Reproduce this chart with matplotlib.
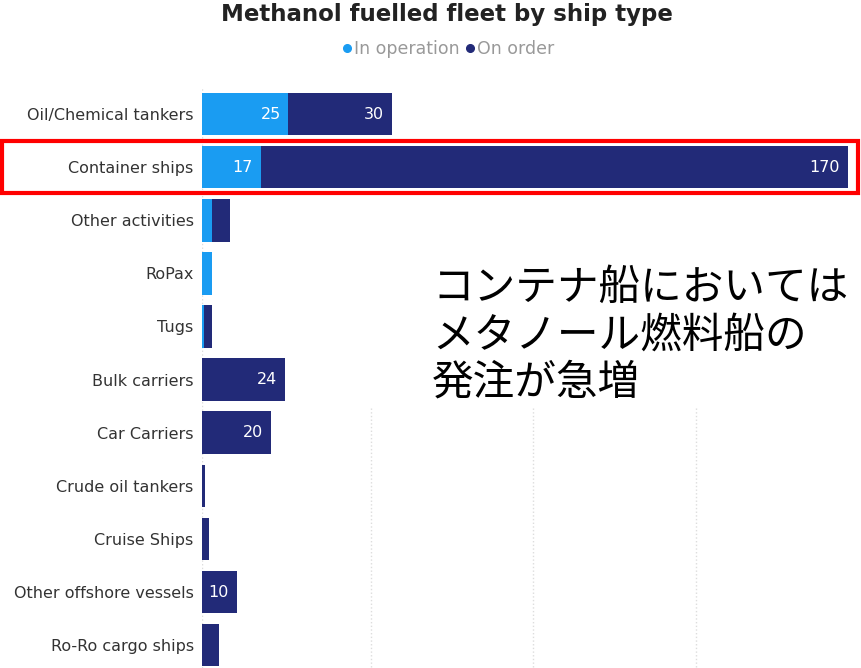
import matplotlib.pyplot as plt
from matplotlib.lines import Line2D
from matplotlib.patches import Rectangle

plt.rcParams['font.family'] = ['DejaVu Sans']

ship_types = ["Oil/Chemical tankers", "Container ships", "Other activities", "RoPax",
              "Tugs", "Bulk carriers", "Car Carriers", "Crude oil tankers",
              "Cruise Ships", "Other offshore vessels", "Ro-Ro cargo ships"]
in_operation = [25, 17, 3, 3, 0.5, 0, 0, 0, 0, 0, 0]
on_order = [30, 170, 5, 0, 2.5, 24, 20, 1, 2, 10, 5]

light = "#1a9cf2"
dark = "#222a78"

fig = plt.figure(figsize=(8.61, 6.68), dpi=100)
ax = fig.add_axes([202 / 861, 0, 656 / 861, 1 - 87.5 / 668])

y = list(range(len(ship_types)))
ax.barh(y, in_operation, height=0.8, color=light, zorder=2)
ax.barh(y, on_order, left=in_operation, height=0.8, color=dark, zorder=2)

# value labels inside the larger segments
for i in y:
    if in_operation[i] >= 10:
        ax.text(in_operation[i] - 2.2, i, f"{in_operation[i]:g}", color="white",
                ha="right", va="center", fontsize=11.5, zorder=3)
    if on_order[i] >= 10:
        ax.text(in_operation[i] + on_order[i] - 2.2, i, f"{on_order[i]:g}", color="white",
                ha="right", va="center", fontsize=11.5, zorder=3)

ax.set_xlim(0, 190)
ax.set_ylim(10.43, -0.5)
ax.set_yticks(y)
ax.set_yticklabels(ship_types, fontsize=11.5, color="#333333")
ax.set_xticks([])
ax.tick_params(axis="y", length=0, pad=6)
for s in ax.spines.values():
    s.set_visible(False)

# faint dotted gridlines (upper part hidden behind the annotation)
ax.axvline(0, color="#dddddd", lw=1, ls=":", zorder=1)
ax.vlines([49, 96, 143], 5.54, 10.43, color="#dddddd", lw=1, ls=":", zorder=1)

fig.text(447 / 861, 1 - 14 / 668, "Methanol fuelled fleet by ship type",
         ha="center", va="center", fontsize=16.5, fontweight="bold", color="#222222")

handles = [Line2D([], [], marker="o", ls="", color=light, markersize=5.5),
           Line2D([], [], marker="o", ls="", color=dark, markersize=5.5)]
fig.legend(handles, ["In operation", "On order"], loc="center",
           bbox_to_anchor=(447 / 861, 1 - 49 / 668), ncol=2, frameon=False,
           handletextpad=0.0, columnspacing=0.2, handlelength=0.8,
           fontsize=12.5, labelcolor="#999999")

# red highlight box around the container ships row
fig.add_artist(Rectangle((2 / 861, 1 - 193 / 668), 856 / 861, 52 / 668,
                         transform=fig.transFigure, fill=False, ec="#ff0000", lw=3))

fig.text(432 / 861, 1 - 336 / 668, "コンテナ船においては\nメタノール燃料船の\n発注が急増",
         ha="left", va="center", fontsize=30, linespacing=1.2, color="black",
         family=["Noto Sans CJK JP", "DejaVu Sans"])

fig.savefig("out.png", dpi=100)
